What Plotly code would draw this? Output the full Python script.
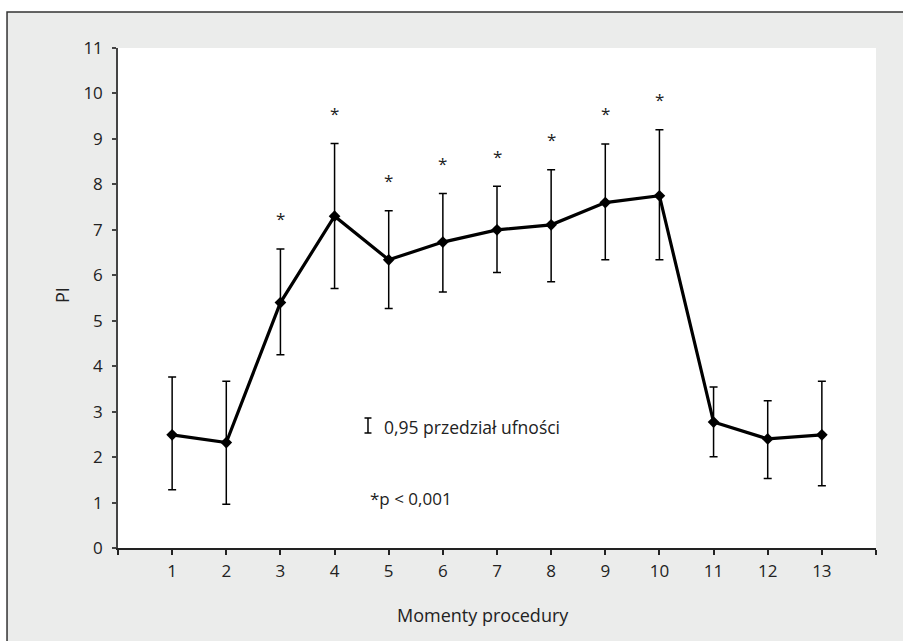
import plotly.graph_objects as go

# ---- data ----
moments = list(range(1, 14))
means = [2.49, 2.32, 5.40, 7.30, 6.34, 6.73, 7.00, 7.11, 7.60, 7.75, 2.77, 2.40, 2.49]
upper = [3.76, 3.67, 6.58, 8.90, 7.42, 7.80, 7.96, 8.32, 8.89, 9.20, 3.54, 3.24, 3.67]
lower = [1.28, 0.96, 4.25, 5.71, 5.27, 5.63, 6.06, 5.86, 6.34, 6.34, 2.01, 1.53, 1.37]
significant = [False, False, True, True, True, True, True, True, True, True, False, False, False]

x_tickvals = list(range(0, 15))
x_ticktext = [""] + [str(m) for m in moments] + [""]
y_tickvals = list(range(0, 12))

x_title = "Momenty procedury"
y_title = "PI"
legend_ci = "0,95 przedział ufności"
legend_p = "*p &lt; 0,001"

FONT = "Open Sans"
TXT = "#222222"

err_plus = [u - m for u, m in zip(upper, means)]
err_minus = [m - l for m, l in zip(means, lower)]

fig = go.Figure()
fig.add_trace(go.Scatter(
    x=moments, y=means, mode="lines+markers",
    line=dict(color="black", width=3.2),
    marker=dict(symbol="diamond", size=9, color="black"),
    error_y=dict(type="data", symmetric=False, array=err_plus, arrayminus=err_minus,
                 color="black", thickness=1.5, width=4),
    showlegend=False, hoverinfo="skip",
))

annotations = []
for m, u, s in zip(moments, upper, significant):
    if s:
        annotations.append(dict(x=m, y=u, xref="x", yref="y", text="*", showarrow=False,
                                yanchor="middle", yshift=30,
                                font=dict(family=FONT, size=17, color=TXT)))

# axis titles and legend texts
annotations += [
    dict(x=-0.0739, y=0.506, xref="paper", yref="paper", text=y_title, showarrow=False,
         xanchor="center", yanchor="middle",
         textangle=-90, font=dict(family=FONT, size=18, color=TXT)),
    dict(x=0.4815, y=-0.134, xref="paper", yref="paper", text=x_title, showarrow=False,
         xanchor="center", yanchor="middle",
         font=dict(family=FONT, size=18, color=TXT)),
    dict(x=0.3483, y=0.2426, xref="paper", yref="paper", text=legend_ci, showarrow=False,
         xanchor="left", yanchor="middle", font=dict(family=FONT, size=17.5, color=TXT)),
    dict(x=0.3294, y=0.10, xref="paper", yref="paper", text=legend_p, showarrow=False,
         xanchor="left", yanchor="middle", font=dict(family=FONT, size=17, color=TXT)),
]

shapes = [
    # outer grey frame
    dict(type="rect", xref="paper", yref="paper", x0=-0.1464, x1=1.2, y0=-0.4, y1=1.072,
         fillcolor="#ebeceb", line=dict(color="#333333", width=1.5), layer="below"),
    # white plot area
    dict(type="rect", xref="paper", yref="paper", x0=0, x1=1, y0=0, y1=1,
         fillcolor="white", line=dict(width=0), layer="below"),
    # legend CI symbol
    dict(type="line", xref="paper", yref="paper", x0=0.3298, x1=0.3298, y0=0.23, y1=0.26,
         line=dict(color="black", width=1.5)),
    dict(type="line", xref="paper", yref="paper", x0=0.3252, x1=0.3344, y0=0.26, y1=0.26,
         line=dict(color="black", width=1.5)),
    dict(type="line", xref="paper", yref="paper", x0=0.3252, x1=0.3344, y0=0.23, y1=0.23,
         line=dict(color="black", width=1.5)),
]

fig.update_layout(
    width=903, height=641,
    margin=dict(l=118, r=27, t=48, b=93),
    paper_bgcolor="white", plot_bgcolor="rgba(0,0,0,0)",
    font=dict(family=FONT, size=17, color=TXT),
    annotations=annotations, shapes=shapes,
    xaxis=dict(range=[0, 14], tickmode="array", tickvals=x_tickvals, ticktext=x_ticktext,
               showgrid=False, zeroline=False, showline=True, linecolor="#222222", linewidth=1.5,
               ticks="outside", ticklen=5, tickwidth=1.5, tickcolor="#222222",
               ticklabelstandoff=2, tickfont=dict(family=FONT, size=17, color=TXT)),
    yaxis=dict(range=[0, 11], tickmode="array", tickvals=y_tickvals,
               showgrid=False, zeroline=False, showline=True, linecolor="#444444", linewidth=1.5,
               ticks="outside", ticklen=4, tickwidth=1.5, tickcolor="#444444",
               ticklabelstandoff=6, tickfont=dict(family=FONT, size=17, color=TXT)),
)

fig.write_html("out.html")
